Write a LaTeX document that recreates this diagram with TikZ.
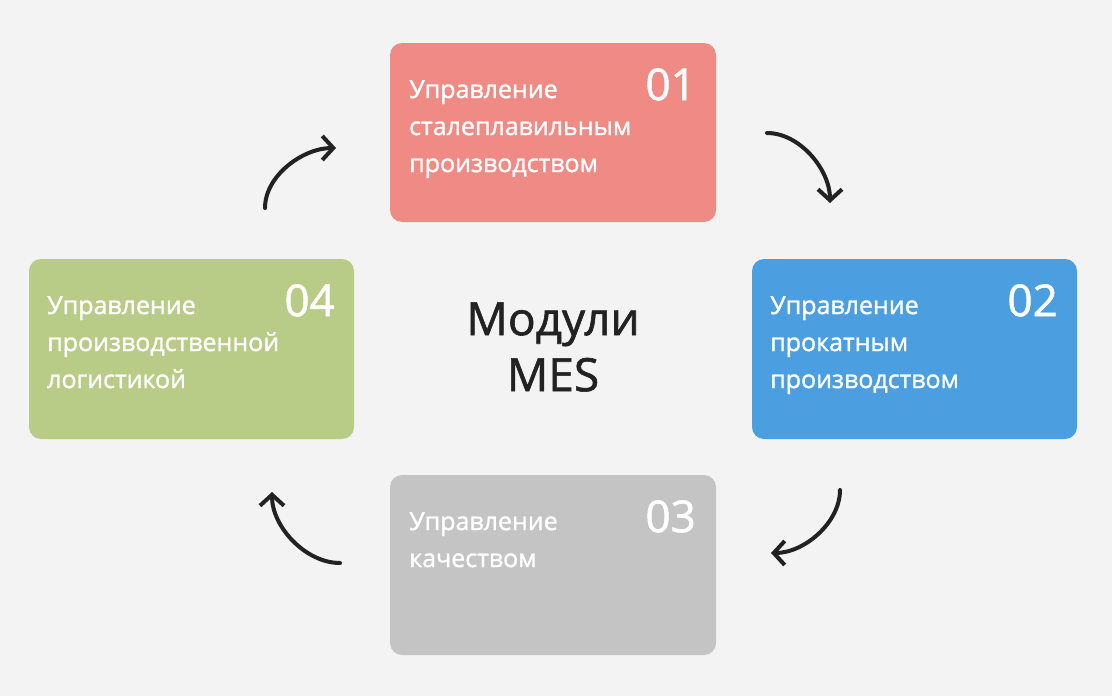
\documentclass[tikz,border=0pt]{standalone}
\usepackage{fontspec}
\setmainfont{Open Sans}
\newfontfamily\semib[FakeBold=1.3]{Open Sans}
\usetikzlibrary{arrows.meta}
\definecolor{bg}{HTML}{F3F3F3}
\definecolor{cred}{HTML}{F08A84}
\definecolor{cblue}{HTML}{4B9FE1}
\definecolor{cgray}{HTML}{C4C4C4}
\definecolor{cgreen}{HTML}{B8CC87}
\definecolor{ink}{HTML}{222222}
\tikzset{
  x=1pt,y=-1pt,
  card/.style={rounded corners=12pt,inner sep=0pt,draw=none},
  lbl/.style={anchor=north west,align=left,text=white,font=\semib\fontsize{25}{37}\selectfont,inner sep=0pt},
  num/.style={anchor=north east,text=white,font=\semib\fontsize{44}{44}\selectfont,inner sep=0pt},
  arr/.style={line width=4pt,ink,line cap=round,-{Straight Barb[length=11pt,width=24pt,line width=4pt]}}
}
\begin{document}
\begin{tikzpicture}
\fill[bg] (0,0) rectangle (1112,696);
\useasboundingbox (0,0) rectangle (1112,696);
\fill[card,cred] (390,43) rectangle (716,222);
\fill[card,cblue] (752,259) rectangle (1077,439);
\fill[card,cgray] (390,475) rectangle (716,655);
\fill[card,cgreen] (29,259) rectangle (354,439);
\node[lbl] (t1) at (409,80) {Управление\\сталеплавильным\\производством};
\node[num] (n1) at (696,68) {01};
\node[lbl] (t2) at (770,296) {Управление\\прокатным\\производством};
\node[num] (n2) at (1058,284) {02};
\node[lbl] (t3) at (409,512) {Управление\\качеством};
\node[num] (n3) at (696,500) {03};
\node[lbl] (t4) at (47,296) {Управление\\производственной\\логистикой};
\node[num] (n4) at (335,284) {04};
\node[align=center,text=ink,font=\semib\fontsize{46}{56}\selectfont] (c) at (553,347) {Модули\\MES};
\coordinate (a1s) at (767,133); \coordinate (a1e) at (830,203);
\coordinate (a2s) at (840,490); \coordinate (a2e) at (771,553);
\coordinate (a3s) at (340,563); \coordinate (a3e) at (272,492);
\coordinate (a4s) at (265,208); \coordinate (a4e) at (336,148);
\draw[arr] (a1s) to[out=0,in=90,looseness=0.9] (a1e);
\draw[arr] (a2s) to[out=270,in=0,looseness=0.9] (a2e);
\draw[arr] (a3s) to[out=180,in=270,looseness=0.9] (a3e);
\draw[arr] (a4s) to[out=90,in=180,looseness=0.9] (a4e);
\end{tikzpicture}
\end{document}
